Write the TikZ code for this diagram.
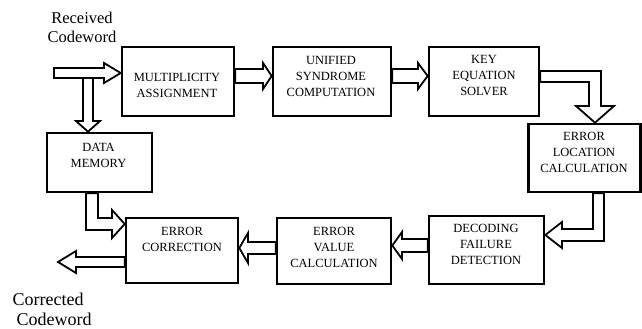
\documentclass[tikz,border=0pt]{standalone}
\usepackage{fontspec}
\setmainfont{Liberation Serif}
\usetikzlibrary{calc}
\pgfdeclarelayer{bg}
\pgfsetlayers{bg,main}
\begin{document}
\begin{tikzpicture}[x=1pt,y=-1pt,
  box/.style={draw, line width=2.6pt, rectangle, inner sep=0pt},
  lbl/.style={font=\fontsize{12.5}{16}\selectfont, align=center, inner sep=0pt},
  barrow/.style={draw, line width=1.8pt, fill=white, line join=miter}]

\useasboundingbox (0,0) rectangle (642,329);

% processing blocks
\node[box, minimum width=112pt, minimum height=69pt] (ma)  at (178,81.5) {};
\node[box, minimum width=118pt, minimum height=69pt] (usc) at (332,81.5) {};
\node[box, minimum width=110pt, minimum height=69pt] (kes) at (484,81.5) {};
\node[box, minimum width=112pt, minimum height=68pt] (elc) at (584.5,158) {};
\node[box, minimum width=115pt, minimum height=68pt] (dfd) at (486.5,250) {};
\node[box, minimum width=105pt, minimum height=59pt] (dm)  at (99.5,162.5) {};
\node[box, minimum width=112pt, minimum height=65pt] (ec)  at (182,250.5) {};
\node[box, minimum width=114pt, minimum height=66pt] (evc) at (334,251) {};

% block captions
\node[lbl] (ma-t)  at (177,85)    {MULTIPLICITY\\ASSIGNMENT};
\node[lbl] (usc-t) at (331,76)    {UNIFIED\\SYNDROME\\COMPUTATION};
\node[lbl] (kes-t) at (484,76)    {KEY\\EQUATION\\SOLVER};
\node[lbl] (elc-t) at (584,152.5) {ERROR\\LOCATION\\CALCULATION};
\node[lbl] (dfd-t) at (486,244)   {DECODING\\FAILURE\\DETECTION};
\node[lbl] (dm-t)  at (98.5,155.5) {DATA\\MEMORY};
\node[lbl] (ec-t)  at (182,239.5) {ERROR\\CORRECTION};
\node[lbl] (evc-t) at (334,247.5) {ERROR\\VALUE\\CALCULATION};

% input / output captions
\node[font=\fontsize{16.5}{19}\selectfont, align=center, inner sep=0pt] (rx) at (82,27) {Received\\Codeword};
\node[font=\fontsize{18}{20}\selectfont, align=left, anchor=west, inner sep=0pt] (tx) at (12.5,309) {Corrected\\\hspace*{4pt}Codeword};

\coordinate (rcv) at (54,73);
\coordinate (out) at (58,262);

% hollow block arrows
\begin{pgfonlayer}{bg}
\draw[barrow] (rcv |- 0,68) -- (104,68) -- (104,63) -- (ma.west |- 0,73)
  -- (104,83) -- (104,78) -- (rcv |- 0,78) -- cycle;
\draw[barrow] (83,78) -- (83,121) -- (76,121) -- (dm.north -| 88,0)
  -- (100,121) -- (93,121) -- (93,78) -- cycle;
\draw[barrow] (ma.east |- 0,69) -- (263,69) -- (263,63) -- (usc.west |- 0,76)
  -- (263,89) -- (263,83) -- (ma.east |- 0,83) -- cycle;
\draw[barrow] (usc.east |- 0,69) -- (418,69) -- (418,63) -- (kes.west |- 0,76)
  -- (418,89) -- (418,83) -- (usc.east |- 0,83) -- cycle;
\draw[barrow] (kes.east |- 0,71) -- (601,71) -- (601,106) -- (614,106)
  -- (elc.north -| 595,0) -- (576,106) -- (589,106) -- (589,82)
  -- (kes.east |- 0,82) -- cycle;
\draw[barrow] (elc.south -| 593,0) -- (593,229) -- (562,229) -- (562,222)
  -- (dfd.east |- 0,235) -- (562,248) -- (562,241) -- (604,241)
  -- (elc.south -| 604,0) -- cycle;
\draw[barrow] (dfd.west |- 0,239) -- (402,239) -- (402,232) -- (evc.east |- 0,245.5)
  -- (402,259) -- (402,252) -- (dfd.west |- 0,252) -- cycle;
\draw[barrow] (evc.west |- 0,242) -- (248,242) -- (248,233) -- (ec.east |- 0,248)
  -- (248,263) -- (248,254) -- (evc.west |- 0,254) -- cycle;
\draw[barrow] (dm.south -| 86,0) -- (86,230) -- (112,230) -- (112,238)
  -- (ec.west |- 0,224) -- (112,210) -- (112,218) -- (98,218)
  -- (dm.south -| 98,0) -- cycle;
\draw[barrow] (ec.west |- 0,257) -- (76,257) -- (76,251) -- (out)
  -- (76,273) -- (76,267) -- (ec.west |- 0,267) -- cycle;
\end{pgfonlayer}

\end{tikzpicture}
\end{document}
